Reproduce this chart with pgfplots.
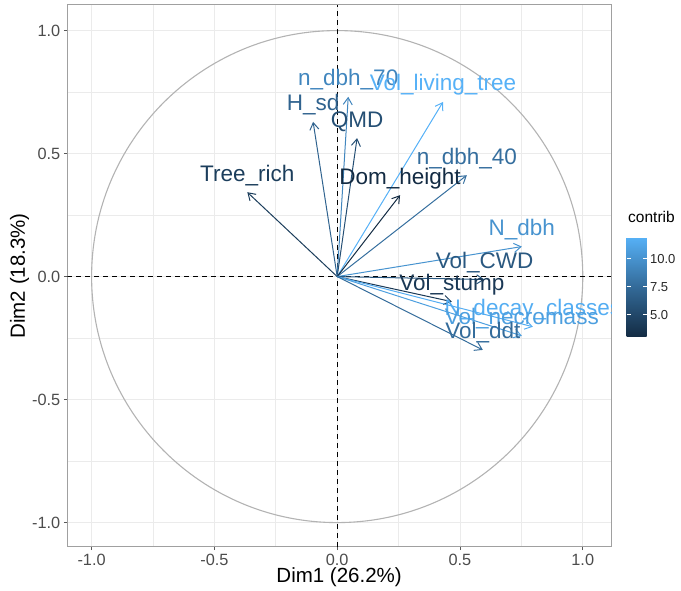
\documentclass[border=0pt]{standalone}
\usepackage{pgfplots}
\pgfplotsset{compat=1.18}
\usetikzlibrary{arrows.meta}
\usepackage{fontspec}
\setmainfont{Liberation Sans}

\definecolor{cTree}{RGB}{28,62,92}
\definecolor{cHsd}{RGB}{48,99,143}
\definecolor{cN70}{RGB}{65,134,190}
\definecolor{cQMD}{RGB}{37,79,116}
\definecolor{cVLT}{RGB}{86,177,247}
\definecolor{cN40}{RGB}{53,110,158}
\definecolor{cDom}{RGB}{19,43,67}
\definecolor{cNdbh}{RGB}{71,147,207}
\definecolor{cCWD}{RGB}{42,88,128}
\definecolor{cStump}{RGB}{26,56,85}
\definecolor{cDecay}{RGB}{84,173,242}
\definecolor{cNecro}{RGB}{77,159,223}
\definecolor{cDdt}{RGB}{52,108,155}
\definecolor{gridc}{RGB}{235,235,235}
\definecolor{borderc}{RGB}{160,160,160}
\definecolor{circc}{RGB}{179,179,179}

\newcommand\varrow[3]{\addplot[#3, line width=1pt, -{Straight Barb[length=7pt,width=9pt]}] coordinates {(0,0) (#1,#2)};}
\newcommand\vlabel[4]{\addplot[draw=none] coordinates {(0,0) (#1,#2)} node[pos=1, anchor=base, yshift=11pt, inner sep=0pt, text=#3, font=\fontsize{22.5}{26}\selectfont] {#4};}

\begin{document}
\begin{tikzpicture}[x=1pt,y=1pt]
\begin{axis}[
  at={(67.3pt,43.3pt)}, anchor=south west,
  scale only axis, width=543.7pt, height=541.7pt,
  xmin=-1.099, xmax=1.115, ymin=-1.098, ymax=1.104,
  xtick={-1,-0.5,0,0.5,1}, xticklabels={-1.0,-0.5,0.0,0.5,1.0},
  ytick={-1,-0.5,0,0.5,1}, yticklabels={-1.0,-0.5,0.0,0.5,1.0},
  minor xtick={-0.75,-0.25,0.25,0.75}, minor ytick={-0.75,-0.25,0.25,0.75},
  grid=both,
  major grid style={color=gridc, line width=0.9pt},
  minor grid style={color=gridc, line width=0.6pt},
  tick align=outside, tick pos=left,
  major tick length=3.5pt, minor tick length=0pt,
  every tick/.style={color=black!65, line width=0.8pt},
  axis line style={color=borderc, line width=1pt},
  ticklabel style={font=\fontsize{16.3}{18}\selectfont, text=black!70},
  xlabel={Dim1 (26.2\%)}, ylabel={Dim2 (18.3\%)},
  label style={font=\fontsize{20.5}{24}\selectfont},
  xlabel style={at={(axis description cs:0.5,-0.057)}, anchor=center},
  ylabel style={at={(axis description cs:-0.088,0.5)}, anchor=center},
  colormap={ggblue}{rgb255(0)=(19,43,67) rgb255(1)=(51,106,152) rgb255(2)=(86,177,247)},
  point meta min=3.03, point meta max=11.93,
  colorbar,
  colorbar/width=20pt,
  colorbar style={
    at={(parent axis.south east)}, anchor=south west,
    xshift=7pt, yshift=209.7pt,
    scale only axis, height=100pt,
    ytick={5,7.5,10}, yticklabels={5.0,7.5,10.0},
    minor ytick={}, grid=none,
    tick align=inside, ytick pos=both, yticklabel pos=right,
    major tick length=4pt,
    every tick/.style={color=white, line width=0.8pt},
    axis line style={draw=none},
    yticklabel style={font=\fontsize{13}{15}\selectfont, text=black!85},
    title={contrib},
    title style={font=\fontsize{15.5}{18}\selectfont, anchor=base west, at={(0,1)}, yshift=9pt, inner sep=0pt, xshift=1.5pt},
  },
]
% reference lines and circle
\draw[circc, line width=1.1pt] (axis cs:0,0) circle[radius=1];
\draw[black, line width=1.2pt, dash pattern=on 5pt off 4pt] (axis cs:0,-1.098) -- (axis cs:0,1.104);
\draw[black, line width=1.2pt, dash pattern=on 5pt off 4pt] (axis cs:-1.099,0) -- (axis cs:1.115,0);

% arrows
\varrow{-0.366}{0.343}{cTree}
\varrow{-0.098}{0.629}{cHsd}
\varrow{0.045}{0.731}{cN70}
\varrow{0.081}{0.563}{cQMD}
\varrow{0.431}{0.710}{cVLT}
\varrow{0.528}{0.412}{cN40}
\varrow{0.256}{0.331}{cDom}
\varrow{0.752}{0.122}{cNdbh}
\varrow{0.600}{-0.012}{cCWD}
\varrow{0.467}{-0.102}{cStump}
\varrow{0.797}{-0.204}{cDecay}
\varrow{0.752}{-0.241}{cNecro}
\varrow{0.593}{-0.298}{cDdt}

% labels
\vlabel{-0.366}{0.343}{cTree}{Tree\_rich}
\vlabel{-0.098}{0.629}{cHsd}{H\_sd}
\vlabel{0.045}{0.731}{cN70}{n\_dbh\_70}
\vlabel{0.081}{0.563}{cQMD}{QMD}
\vlabel{0.431}{0.710}{cVLT}{Vol\_living\_tree}
\vlabel{0.528}{0.412}{cN40}{n\_dbh\_40}
\vlabel{0.256}{0.331}{cDom}{Dom\_height}
\vlabel{0.752}{0.122}{cNdbh}{N\_dbh}
\vlabel{0.600}{-0.012}{cCWD}{Vol\_CWD}
\vlabel{0.467}{-0.102}{cStump}{Vol\_stump}
\vlabel{0.797}{-0.204}{cDecay}{N\_decay\_classes}
\vlabel{0.752}{-0.241}{cNecro}{Vol\_necromass}
\vlabel{0.593}{-0.298}{cDdt}{Vol\_ddt}
\end{axis}
\pgfresetboundingbox
\path (0,0) rectangle (681,590);
\end{tikzpicture}
\end{document}
